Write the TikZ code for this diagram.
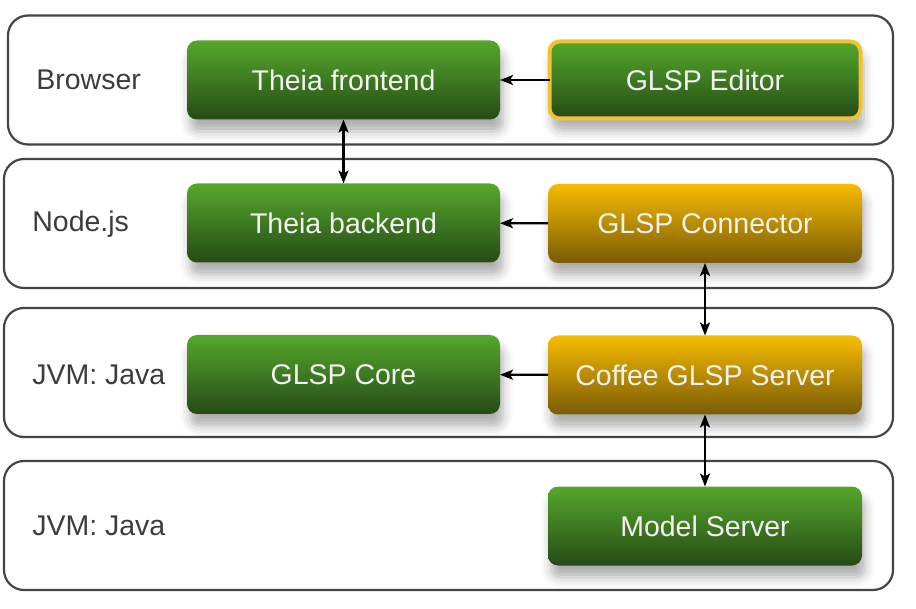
\documentclass[tikz,border=0pt]{standalone}
\usepackage{fontspec}
\setmainfont{Liberation Sans}
\usetikzlibrary{positioning,shadows.blur,arrows.meta}
\definecolor{layergray}{HTML}{454545}
\definecolor{labelgray}{HTML}{3C3C3C}
\definecolor{greentop}{HTML}{55A82B}
\definecolor{greenbot}{HTML}{264A17}
\definecolor{goldtop}{HTML}{F7BC00}
\definecolor{goldbot}{HTML}{7A5B05}
\definecolor{editorrim}{HTML}{F1C232}
\definecolor{boxtext}{HTML}{F2F2F2}
\tikzset{
every picture/.style={
line width=2pt
}}
\tikzset{
  link/.style={line width=2.2pt, -{Stealth[length=13pt, width=10pt, inset=3pt]}},
  bilink/.style={line width=2.2pt, {Stealth[length=13pt, width=10pt, inset=3pt]}-{Stealth[length=13pt, width=10pt, inset=3pt]}},
  every node/.append style={font=\fontsize{28.5}{34}\selectfont, outer sep=0pt},
  layer/.style={
    draw=layergray,
    line width=2.2pt,
    rounded corners=20pt,
    minimum width=889pt,
    minimum height=129pt
  },
  comp/.style={
    rounded corners=10pt,
    minimum width=314pt,
    minimum height=79pt,
    text=boxtext,
    blur shadow={shadow xshift=3pt, shadow yshift=-12pt, shadow blur radius=10pt, shadow opacity=32}
  },
  greencomp/.style={comp, top color=greentop, bottom color=greenbot},
  goldcomp/.style={comp, top color=goldtop, bottom color=goldbot},
  tag/.style={anchor=west, text=labelgray}
}
\begin{document}
\begin{tikzpicture}[x=1pt, y=-1pt]
  \useasboundingbox (0,0) rectangle (916,609);

  % the four runtime layers
  \node [layer, minimum width=885pt] (browser) at (450.5,80) {};
  \node [layer] (node)  at (448.5,223.5) {};
  \node [layer] (jvma)  at (448.5,372.5) {};
  \node [layer] (jvmb)  at (448.5,525.5) {};

  \node [tag] (lbrowser) at (33,80) {Browser};
  \node [tag] (lnode)    at (29,224) {Node.js};
  \node [tag] (ljvma)    at (29,375) {JVM: Java};
  \node [tag] (ljvmb)    at (29,526) {JVM: Java};

  % components
  \node [greencomp, minimum width=313pt] (front) at (343.5,80) {Theia frontend};
  \node [greencomp, draw=editorrim, line width=4pt, minimum width=311pt, minimum height=77pt] (editor) at (705,80) {GLSP Editor};
  \node [greencomp, minimum width=313pt] (back) at (343.5,223) {Theia backend};
  \node [goldcomp] (conn) at (705,223.5) {GLSP Connector};
  \node [greencomp, minimum width=313pt] (core) at (343.5,374.5) {GLSP Core};
  \node [goldcomp] (coffee) at (705,375) {Coffee GLSP Server};
  \node [greencomp] (model) at (705,526) {Model Server};

  \draw [link] (editor) -- (front);
  \draw [bilink] (front) -- (back);
  \draw [link] (conn) -- (back);
  \draw [bilink] (conn) -- (coffee);
  \draw [link] (coffee) -- (core);
  \draw [bilink] (coffee) -- (model);
\end{tikzpicture}
\end{document}
